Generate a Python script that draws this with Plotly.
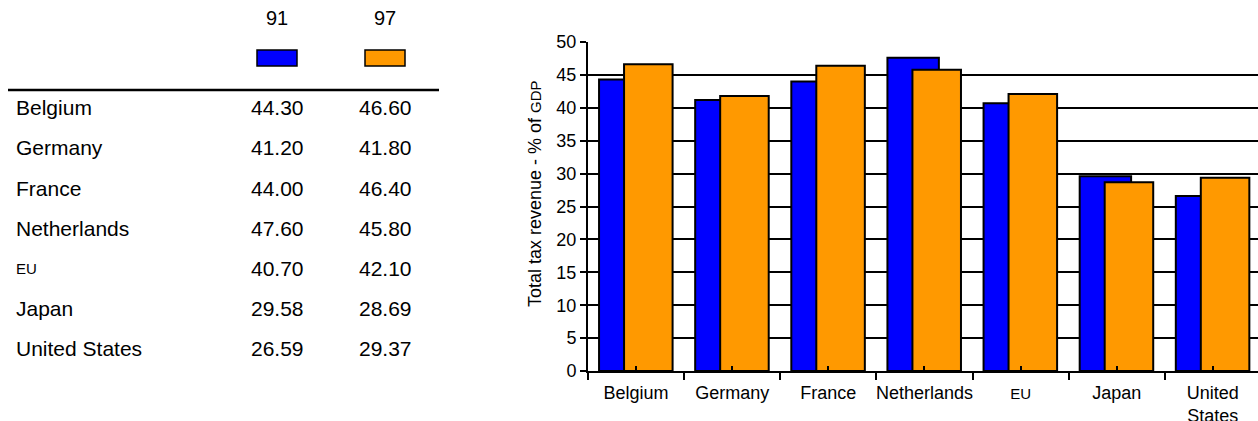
import plotly.graph_objects as go

# Total tax revenue as % of GDP
categories = ["Belgium", "Germany", "France", "Netherlands", "EU", "Japan", "United States"]
tick_labels = ["Belgium", "Germany", "France", "Netherlands",
               "<span style='font-size:15px'>EU</span>", "Japan", "United<br>States"]
table_labels = ["Belgium", "Germany", "France", "Netherlands",
                "<span style='font-size:15px'>EU</span>", "Japan", "United States"]
years = ["91", "97"]
values_91 = [44.30, 41.20, 44.00, 47.60, 40.70, 29.58, 26.59]
values_97 = [46.60, 41.80, 46.40, 45.80, 42.10, 28.69, 29.37]
y_ticks = [0, 5, 10, 15, 20, 25, 30, 35, 40, 45, 50]

BLUE = "#0000FF"
ORANGE = "#FF9900"
W, H = 1258, 421
FONT = "Liberation Sans, Arial, sans-serif"

# pixel helpers for the layout (paper coordinates span the full page)
def px(x):
    return x / W

def py(y):
    return (H - y) / H

plot_left, plot_top, plot_bottom = 588, 42, 371

fig = go.Figure()
fig.add_trace(go.Bar(
    x=categories, y=values_91, name=years[0],
    marker=dict(color=BLUE, line=dict(color="black", width=2)),
    width=0.535, offset=-0.385,
))
fig.add_trace(go.Bar(
    x=categories, y=values_97, name=years[1],
    marker=dict(color=ORANGE, line=dict(color="black", width=2)),
    width=0.505, offset=-0.125,
))
# helper trace so the centre-tick axis is drawn
fig.add_trace(go.Scatter(x=[0], y=[0], xaxis="x2", mode="markers",
                         marker=dict(opacity=0), hoverinfo="skip", showlegend=False))

x_range = [-0.5, 6.47]
fig.update_layout(
    width=W, height=H,
    margin=dict(l=0, r=0, t=0, b=0, autoexpand=False),
    paper_bgcolor="white", plot_bgcolor="white",
    barmode="overlay",
    showlegend=False,
    font=dict(family=FONT, size=18, color="black"),
    xaxis=dict(
        domain=[px(plot_left), 1],
        type="category", range=x_range, automargin=False,
        tickmode="array", tickvals=categories, ticktext=tick_labels, tickangle=0,
        tickson="boundaries", ticks="outside", ticklen=7, tickwidth=2, tickcolor="black",
        ticklabelstandoff=4,
        showgrid=False, showline=True, linecolor="black", linewidth=2,
        tickfont=dict(size=18),
    ),
    xaxis2=dict(
        domain=[px(plot_left), 1], overlaying="x", anchor="y", automargin=False,
        range=x_range, tickmode="array", tickvals=list(range(len(categories))),
        ticks="inside", ticklen=5, tickwidth=2, tickcolor="black",
        showticklabels=False, showgrid=False, showline=False, zeroline=False,
    ),
    yaxis=dict(
        domain=[py(plot_bottom), py(plot_top)], automargin=False,
        range=[0, 50], tickmode="array", tickvals=y_ticks,
        ticks="outside", ticklen=6, tickwidth=2, tickcolor="black",
        showgrid=True, gridcolor="black", gridwidth=2,
        zeroline=False, showline=True, linecolor="black", linewidth=2,
        tickfont=dict(size=18),
    ),
)

# axis title
fig.add_annotation(
    xref="paper", yref="paper", x=px(535), y=py(194),
    text="Total tax revenue - % of <span style='font-size:15px'>GDP</span>",
    textangle=-90, showarrow=False, font=dict(size=18),
    xanchor="center", yanchor="middle",
)

# data table on the left
col_x = [277, 385]
legend_colors = [BLUE, ORANGE]
for yr, cx, col in zip(years, col_x, legend_colors):
    fig.add_annotation(xref="paper", yref="paper", x=px(cx), y=py(18), text=yr,
                       showarrow=False, font=dict(size=20), xanchor="center", yanchor="middle")
    fig.add_shape(type="rect", xref="paper", yref="paper",
                  x0=px(cx - 20), x1=px(cx + 20), y0=py(66), y1=py(50),
                  fillcolor=col, line=dict(color="black", width=1.5))

fig.add_shape(type="line", xref="paper", yref="paper",
              x0=px(8), x1=px(439), y0=py(90), y1=py(90),
              line=dict(color="black", width=2.5))

row_y0, row_step = 108, 40
for i, (lab, v1, v2) in enumerate(zip(table_labels, values_91, values_97)):
    ry = row_y0 + i * row_step
    fig.add_annotation(xref="paper", yref="paper", x=px(14), y=py(ry), text=lab,
                       showarrow=False, font=dict(size=21), xanchor="left", yanchor="middle")
    for v, cx in zip((v1, v2), col_x):
        fig.add_annotation(xref="paper", yref="paper", x=px(cx), y=py(ry), text=f"{v:.2f}",
                           showarrow=False, font=dict(size=21), xanchor="center", yanchor="middle")

fig.write_html("out.html")
